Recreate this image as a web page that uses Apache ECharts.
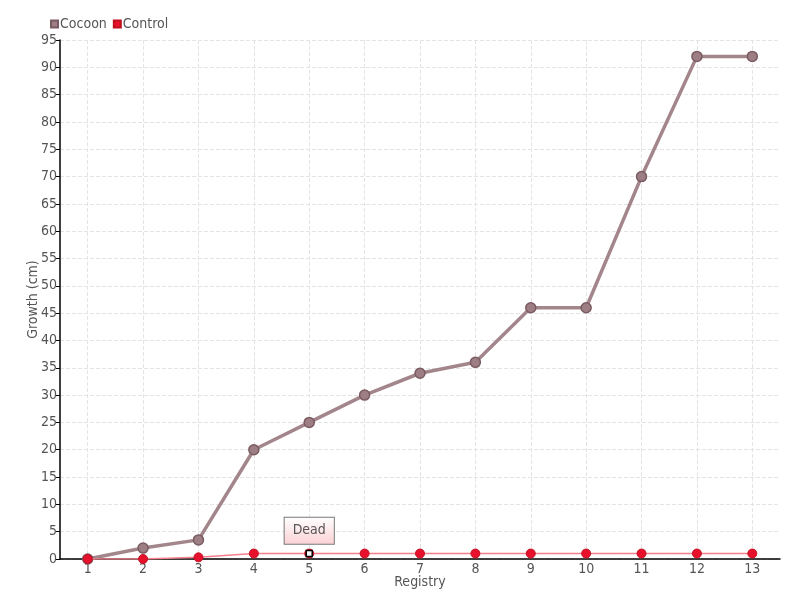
<!DOCTYPE html>
<html>
<head>
<meta charset="utf-8">
<script src="https://cdn.jsdelivr.net/npm/echarts@6/dist/echarts.min.js"></script>
<style>
  html, body { margin: 0; padding: 0; background: #fff; }
  #chart { width: 800px; height: 600px; }
</style>
</head>
<body>
<div id="chart"></div>
<script>
// registry numbers on the x axis
const registry = [1, 2, 3, 4, 5, 6, 7, 8, 9, 10, 11, 12, 13]
// growth in cm
const cocoon = [0, 2, 3.5, 20, 25, 30, 34, 36, 46, 46, 70, 92, 92]
const control = [0, 0, 0.3, 1, 1, 1, 1, 1, 1, 1, 1, 1, 1]
// the point that got a note
const deadIndex = 4
const deadLabel = 'Dead'

const font = '"DejaVu Sans Condensed", "Liberation Sans Narrow", sans-serif'
const textColor = '#555'

const chart = echarts.init(document.getElementById('chart'))

const option = {
  animation: false,
  textStyle: { fontFamily: font },
  grid: { left: 60, right: 20, top: 40, bottom: 41 },
  legend: {
    left: 45,
    top: 12,
    itemWidth: 7,
    itemHeight: 7,
    itemGap: 6,
    icon: 'rect',
    textStyle: { color: textColor, fontSize: 14, fontFamily: font, padding: [0, 0, 0, -3] },
    data: ['Cocoon', 'Control']
  },
  xAxis: {
    type: 'value',
    min: 0.5,
    max: 13.5,
    name: 'Registry',
    nameLocation: 'middle',
    nameGap: 16,
    nameMoveOverlap: false,
    nameTextStyle: { color: textColor, fontSize: 14, fontFamily: font },
    axisLine: { lineStyle: { color: '#000', width: 1.5 } },
    axisTick: { show: false, customValues: registry },
    axisLabel: { color: textColor, fontSize: 14, fontFamily: font, margin: 3, customValues: registry },
    splitLine: { show: true, lineStyle: { color: '#e4e4e4', type: 'dashed' } }
  },
  yAxis: {
    type: 'value',
    min: 0,
    max: 95,
    interval: 5,
    name: 'Growth (cm)',
    nameLocation: 'middle',
    nameGap: 20,
    nameMoveOverlap: false,
    nameTextStyle: { color: textColor, fontSize: 14, fontFamily: font },
    axisLine: { show: true, lineStyle: { color: '#000', width: 1.5 } },
    axisTick: { show: true, length: 4, lineStyle: { color: '#000' } },
    axisLabel: { color: textColor, fontSize: 14, fontFamily: font, margin: 3 },
    splitLine: { lineStyle: { color: '#e4e4e4', type: 'dashed' } }
  },
  series: [
    {
      name: 'Cocoon',
      type: 'line',
      data: cocoon.map((v, i) => [registry[i], v]),
      symbol: 'circle',
      symbolSize: 10,
      z: 2,
      lineStyle: { color: '#a3868b', width: 3.5 },
      itemStyle: { color: '#9c7e84', borderColor: '#7a5b61', borderWidth: 1.5 }
    },
    {
      name: 'Control',
      type: 'line',
      data: control.map((v, i) => [registry[i], v]),
      symbol: 'circle',
      symbolSize: 9,
      z: 3,
      lineStyle: { color: '#f5808c', width: 1.5 },
      itemStyle: { color: '#e8112d', borderColor: '#c0101f', borderWidth: 1 },
      markPoint: {
        symbol: 'rect',
        symbolSize: 6,
        itemStyle: { color: '#fff', borderColor: '#000', borderWidth: 1.5 },
        label: {
          show: true,
          position: 'top',
          distance: 6,
          formatter: deadLabel,
          color: textColor,
          fontFamily: font,
          fontSize: 14,
          padding: [6, 8, 6, 8],
          borderColor: '#777',
          borderWidth: 1,
          backgroundColor: {
            type: 'linear', x: 0, y: 0, x2: 0, y2: 1,
            colorStops: [
              { offset: 0, color: '#ffffff' },
              { offset: 1, color: '#fbd0d4' }
            ]
          }
        },
        data: [{ coord: [registry[deadIndex], control[deadIndex]] }]
      }
    }
  ]
}

chart.setOption(option)
</script>
</body>
</html>
